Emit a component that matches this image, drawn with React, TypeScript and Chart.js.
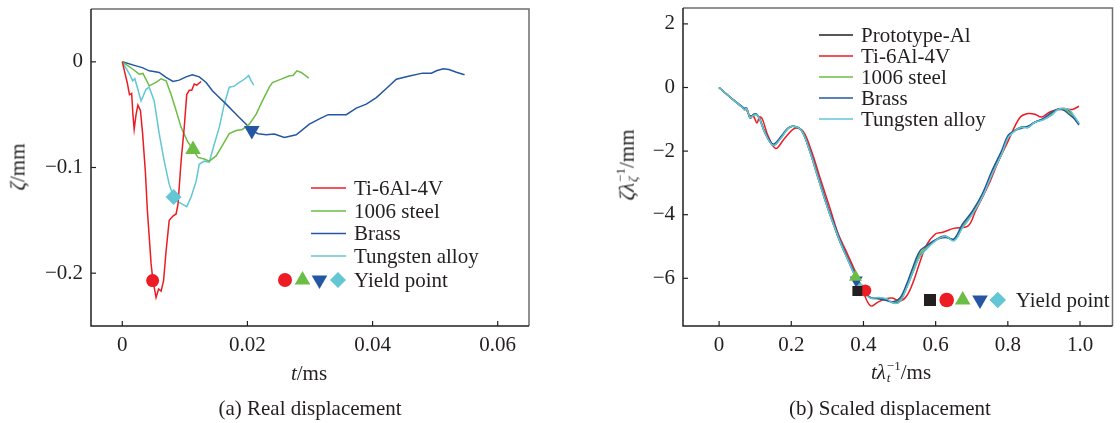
import React, { useEffect, useRef } from 'react';
import { Chart, registerables } from 'chart.js';
Chart.register(...registerables);

const FONT = '"Liberation Serif", "Times New Roman", serif';
const TEXT = '#231f20';

// ---------- Panel (a): real displacement ----------
const A_X_TICKS = [0, 0.02, 0.04, 0.06];
const A_X_LABELS = ['0', '0.02', '0.04', '0.06'];
const A_Y_TICKS = [0, -0.1, -0.2];
const A_Y_LABELS = ['0', '\u22120.1', '\u22120.2'];

const A_TI_X = [0, 0.0008, 0.00115, 0.0015, 0.0017, 0.0019, 0.0022, 0.0025, 0.0029, 0.00325, 0.0037, 0.0040, 0.0043, 0.0046, 0.0049, 0.0054, 0.0058, 0.0062, 0.0066, 0.0070, 0.0075, 0.0081, 0.0086, 0.0089, 0.0094, 0.0099, 0.0103, 0.0107, 0.0111, 0.0115, 0.0119, 0.0126];
const A_TI_Y = [0, -0.02, -0.031, -0.03, -0.05, -0.064, -0.05, -0.041, -0.046, -0.068, -0.105, -0.14, -0.165, -0.191, -0.207, -0.223, -0.215, -0.217, -0.207, -0.179, -0.15, -0.146, -0.144, -0.135, -0.094, -0.062, -0.031, -0.027, -0.027, -0.021, -0.022, -0.0186];

const A_STEEL_X = [0, 0.0017, 0.0027, 0.0033, 0.0043, 0.0054, 0.0062, 0.0070, 0.0078, 0.0086, 0.0094, 0.0104, 0.0113, 0.0121, 0.0131, 0.0139, 0.0150, 0.0160, 0.0171, 0.0182, 0.0192, 0.0203, 0.0214, 0.0224, 0.0235, 0.0240, 0.0254, 0.0267, 0.0273, 0.0279, 0.0286, 0.0298];
const A_STEEL_Y = [0, -0.007, -0.0117, -0.011, -0.0227, -0.0195, -0.016, -0.018, -0.031, -0.046, -0.062, -0.075, -0.083, -0.0905, -0.092, -0.094, -0.089, -0.079, -0.068, -0.065, -0.064, -0.059, -0.0495, -0.037, -0.024, -0.0196, -0.0164, -0.0132, -0.013, -0.0085, -0.0101, -0.0155];

const A_BRASS_X = [0, 0.0022, 0.0032, 0.0043, 0.0048, 0.0059, 0.0070, 0.0081, 0.0091, 0.0102, 0.0112, 0.0123, 0.0134, 0.0144, 0.0155, 0.0166, 0.0176, 0.0187, 0.0198, 0.0207, 0.0217, 0.0230, 0.0243, 0.0259, 0.0278, 0.0299, 0.0315, 0.0329, 0.0358, 0.0374, 0.0390, 0.0406, 0.0422, 0.0438, 0.0459, 0.0480, 0.0494, 0.0502, 0.0513, 0.0522, 0.0534, 0.0547];
const A_BRASS_Y = [0, -0.0038, -0.0055, -0.0085, -0.009, -0.010, -0.0148, -0.0186, -0.0173, -0.0142, -0.0123, -0.0142, -0.0196, -0.0274, -0.0338, -0.040, -0.046, -0.0527, -0.059, -0.065, -0.068, -0.069, -0.0684, -0.0716, -0.069, -0.059, -0.054, -0.050, -0.050, -0.0438, -0.040, -0.0338, -0.0252, -0.0164, -0.0135, -0.0107, -0.0107, -0.0085, -0.0066, -0.0072, -0.0098, -0.0123];

const A_TUNG_X = [0, 0.0012, 0.00165, 0.0020, 0.0024, 0.0030, 0.0038, 0.0043, 0.0051, 0.0059, 0.0067, 0.0075, 0.0082, 0.0091, 0.0103, 0.0110, 0.0118, 0.0123, 0.0131, 0.0139, 0.0147, 0.0155, 0.0163, 0.0171, 0.0179, 0.0187, 0.0195, 0.0202, 0.0206, 0.0210];
const A_TUNG_Y = [0, -0.012, -0.018, -0.016, -0.024, -0.037, -0.026, -0.024, -0.037, -0.068, -0.094, -0.116, -0.128, -0.133, -0.137, -0.128, -0.113, -0.097, -0.094, -0.095, -0.078, -0.062, -0.040, -0.024, -0.023, -0.0195, -0.0165, -0.013, -0.018, -0.022];

// yield points (a): Ti, steel, brass, tungsten
const A_YIELD_X = [0.00485, 0.0113, 0.0207, 0.0082];
const A_YIELD_Y = [-0.207, -0.083, -0.065, -0.128];

// ---------- Panel (b): scaled displacement ----------
const B_X_TICKS = [0, 0.2, 0.4, 0.6, 0.8, 1.0];
const B_X_LABELS = ['0', '0.2', '0.4', '0.6', '0.8', '1.0'];
const B_Y_TICKS = [2, 0, -2, -4, -6];
const B_Y_LABELS = ['2', '0', '\u22122', '\u22124', '\u22126'];

const B_X = [0, 0.03, 0.064, 0.07, 0.076, 0.086, 0.096, 0.104, 0.112, 0.128, 0.15, 0.173, 0.19, 0.205, 0.228, 0.251, 0.273, 0.301, 0.328, 0.346, 0.364, 0.383, 0.401, 0.419, 0.442, 0.464, 0.482, 0.501, 0.519, 0.537, 0.556, 0.578, 0.595, 0.61, 0.628, 0.651, 0.674, 0.701, 0.729, 0.756, 0.783, 0.801, 0.82, 0.838, 0.856, 0.874, 0.897, 0.92, 0.938, 0.956, 0.97, 0.984, 0.997];
const B_PROTO_Y = [0, -0.3, -0.62, -0.70, -0.66, -0.95, -0.86, -0.85, -0.98, -1.45, -1.82, -1.56, -1.30, -1.22, -1.35, -2.0, -2.8, -3.8, -4.65, -5.15, -5.6, -6.08, -6.42, -6.60, -6.62, -6.66, -6.77, -6.72, -6.30, -5.80, -5.30, -5.03, -4.85, -4.72, -4.68, -4.80, -4.40, -3.98, -3.45, -2.72, -2.08, -1.56, -1.35, -1.24, -1.25, -1.09, -1.01, -0.87, -0.69, -0.66, -0.72, -0.93, -1.14];
const B_STEEL_Y = [0, -0.3, -0.62, -0.69, -0.66, -0.94, -0.86, -0.86, -0.99, -1.44, -1.80, -1.55, -1.30, -1.22, -1.34, -1.98, -2.78, -3.78, -4.62, -5.12, -5.58, -6.05, -6.40, -6.62, -6.64, -6.68, -6.75, -6.66, -6.25, -5.74, -5.24, -5.0, -4.84, -4.74, -4.70, -4.78, -4.36, -3.94, -3.40, -2.68, -2.04, -1.54, -1.36, -1.26, -1.24, -1.10, -1.00, -0.84, -0.68, -0.68, -0.78, -0.95, -1.16];
const B_BRASS_Y = [0, -0.3, -0.60, -0.66, -0.64, -0.96, -0.84, -0.84, -0.97, -1.42, -1.78, -1.52, -1.28, -1.22, -1.34, -1.96, -2.74, -3.74, -4.58, -5.10, -5.55, -6.02, -6.38, -6.60, -6.64, -6.70, -6.74, -6.62, -6.20, -5.65, -5.15, -4.95, -4.82, -4.75, -4.72, -4.76, -4.30, -3.90, -3.35, -2.62, -1.98, -1.50, -1.35, -1.28, -1.22, -1.10, -0.98, -0.80, -0.68, -0.72, -0.85, -0.98, -1.18];
const B_TUNG_Y = [0, -0.3, -0.62, -0.70, -0.66, -0.95, -0.87, -0.85, -0.98, -1.45, -1.82, -1.57, -1.30, -1.22, -1.35, -2.0, -2.8, -3.8, -4.64, -5.15, -5.6, -6.08, -6.44, -6.62, -6.60, -6.64, -6.78, -6.74, -6.32, -5.82, -5.32, -5.05, -4.86, -4.74, -4.68, -4.82, -4.42, -4.0, -3.46, -2.74, -2.10, -1.58, -1.36, -1.25, -1.26, -1.10, -1.02, -0.88, -0.70, -0.66, -0.70, -0.90, -1.12];

const B_TI_X = [0, 0.03, 0.064, 0.075, 0.085, 0.095, 0.105, 0.112, 0.12, 0.135, 0.157, 0.18, 0.21, 0.233, 0.256, 0.28, 0.31, 0.33, 0.35, 0.37, 0.385, 0.40, 0.42, 0.44, 0.46, 0.48, 0.50, 0.52, 0.54, 0.556, 0.575, 0.60, 0.62, 0.65, 0.69, 0.71, 0.747, 0.774, 0.801, 0.833, 0.856, 0.875, 0.893, 0.915, 0.938, 0.96, 0.979, 0.997];
const B_TI_Y = [0, -0.3, -0.62, -0.70, -0.88, -0.90, -1.12, -0.92, -1.0, -1.5, -1.92, -1.62, -1.28, -1.38, -2.0, -2.85, -3.9, -4.6, -5.1, -5.6, -6.0, -6.45, -6.87, -6.75, -6.65, -6.62, -6.72, -6.55, -6.05, -5.5, -4.95, -4.6, -4.55, -4.43, -4.35, -3.9, -3.05, -2.32, -1.68, -0.95, -0.82, -0.84, -0.93, -0.78, -0.70, -0.68, -0.69, -0.59];

// yield points (b): proto, Ti, steel, brass, tungsten
const B_YIELD_X = [0.383, 0.405, 0.378, 0.38, 0.392];
const B_YIELD_Y = [-6.40, -6.38, -5.96, -6.06, -6.35];

const C_RED = '#ed1c24';
const C_GREEN = '#6cbd45';
const C_BLUE = '#2456a4';
const C_CYAN = '#62c6d4';
const C_BLACK = '#231f20';

const toPts = (xs: number[], ys: number[]) => xs.map((x, i) => ({ x, y: ys[i] }));

function drawShape(ctx: CanvasRenderingContext2D, shape: string, x: number, y: number, r: number, color: string) {
  ctx.save();
  ctx.fillStyle = color;
  ctx.beginPath();
  if (shape === 'circle') {
    ctx.arc(x, y, r, 0, Math.PI * 2);
  } else if (shape === 'triangle') {
    ctx.moveTo(x, y - r);
    ctx.lineTo(x + r * 0.866, y + r * 0.5);
    ctx.lineTo(x - r * 0.866, y + r * 0.5);
    ctx.closePath();
  } else if (shape === 'down') {
    ctx.moveTo(x, y + r);
    ctx.lineTo(x + r * 0.866, y - r * 0.5);
    ctx.lineTo(x - r * 0.866, y - r * 0.5);
    ctx.closePath();
  } else if (shape === 'diamond') {
    ctx.moveTo(x, y - r);
    ctx.lineTo(x + r, y);
    ctx.lineTo(x, y + r);
    ctx.lineTo(x - r, y);
    ctx.closePath();
  } else if (shape === 'square') {
    ctx.rect(x - r, y - r, 2 * r, 2 * r);
  }
  ctx.fill();
  ctx.restore();
}

const framePlugin = {
  id: 'frameTicks',
  afterDraw(chart: any) {
    const { ctx, chartArea } = chart;
    const { left, top, right, bottom } = chartArea;
    ctx.save();
    ctx.lineWidth = 1.5;
    ctx.strokeStyle = '#6d6e70';
    ctx.beginPath();
    ctx.moveTo(left, top);
    ctx.lineTo(right, top);
    ctx.lineTo(right, bottom);
    ctx.stroke();
    ctx.strokeStyle = TEXT;
    ctx.beginPath();
    ctx.moveTo(left, top);
    ctx.lineTo(left, bottom);
    ctx.lineTo(right, bottom);
    ctx.stroke();
    ctx.lineWidth = 1.2;
    const xs = chart.scales.x;
    const ys = chart.scales.y;
    xs.ticks.forEach((t: any) => {
      const px = xs.getPixelForValue(t.value);
      ctx.beginPath();
      ctx.moveTo(px, bottom);
      ctx.lineTo(px, bottom - 5);
      ctx.stroke();
    });
    ys.ticks.forEach((t: any) => {
      const py = ys.getPixelForValue(t.value);
      ctx.beginPath();
      ctx.moveTo(left, py);
      ctx.lineTo(left + 5, py);
      ctx.stroke();
    });
    ctx.restore();
  },
};

type LegendLine = { label: string; color: string; y: number };
type LegendCfg = {
  lineX1: number; lineX2: number; textX: number;
  lines: LegendLine[];
  markers: { shape: string; color: string; x: number; r: number }[];
  markerY: number;
  yieldTextX: number;
};

const makeLegendPlugin = (cfg: LegendCfg) => ({
  id: 'customLegend',
  afterDraw(chart: any) {
    const ctx = chart.ctx as CanvasRenderingContext2D;
    ctx.save();
    ctx.font = `21px ${FONT}`;
    ctx.textBaseline = 'middle';
    ctx.fillStyle = TEXT;
    cfg.lines.forEach((l) => {
      ctx.strokeStyle = l.color;
      ctx.lineWidth = 1.6;
      ctx.beginPath();
      ctx.moveTo(cfg.lineX1, l.y);
      ctx.lineTo(cfg.lineX2, l.y);
      ctx.stroke();
      ctx.fillText(l.label, cfg.textX, l.y + 1);
    });
    cfg.markers.forEach((m) => drawShape(ctx, m.shape, m.x, cfg.markerY, m.r, m.color));
    ctx.fillText('Yield point', cfg.yieldTextX, cfg.markerY + 1);
    ctx.restore();
  },
});

const tickFont = { family: FONT, size: 21 };

function axis(min: number, max: number, ticks: number[], labels: string[], isX: boolean, size: number) {
  return {
    type: 'linear',
    min,
    max,
    afterBuildTicks: (s: any) => {
      s.ticks = ticks.map((v) => ({ value: v }));
    },
    afterFit: (s: any) => {
      if (isX) s.height = size;
      else s.width = size;
      s.paddingTop = 0;
      s.paddingBottom = 0;
      s.paddingLeft = 0;
      s.paddingRight = 0;
    },
    ticks: {
      font: tickFont,
      color: TEXT,
      padding: isX ? 7 : 8,
      maxRotation: 0,
      autoSkip: false,
      callback: (_v: any, i: number) => labels[i],
    },
    grid: { display: false, drawTicks: false },
    border: { display: false },
  };
}

function lineDs(label: string, data: any[], color: string, order: number, tension = 0) {
  return {
    label,
    data,
    showLine: true,
    borderColor: color,
    backgroundColor: color,
    borderWidth: 1.5,
    pointRadius: 0,
    tension,
    order,
  };
}

function markerDs(label: string, x: number, y: number, style: string, color: string, r: number, rotation = 0) {
  return {
    label,
    data: [{ x, y }],
    showLine: false,
    pointStyle: style,
    rotation,
    pointRadius: r,
    pointBackgroundColor: color,
    pointBorderColor: color,
    pointBorderWidth: 0,
    order: 0,
  };
}

function ChartA() {
  const ref = useRef<HTMLCanvasElement>(null);
  useEffect(() => {
    if (!ref.current) return;
    const legend = makeLegendPlugin({
      lineX1: 311, lineX2: 346, textX: 354,
      lines: [
        { label: 'Ti-6Al-4V', color: C_RED, y: 188 },
        { label: '1006 steel', color: C_GREEN, y: 211 },
        { label: 'Brass', color: C_BLUE, y: 233.5 },
        { label: 'Tungsten alloy', color: C_CYAN, y: 256 },
      ],
      markers: [
        { shape: 'circle', color: C_RED, x: 285, r: 7 },
        { shape: 'triangle', color: C_GREEN, x: 302.5, r: 9 },
        { shape: 'down', color: C_BLUE, x: 319.5, r: 9 },
        { shape: 'diamond', color: C_CYAN, x: 338, r: 8 },
      ],
      markerY: 280,
      yieldTextX: 354,
    });
    const chart = new Chart(ref.current, {
      type: 'scatter',
      data: {
        datasets: [
          markerDs('Ti yield', A_YIELD_X[0], A_YIELD_Y[0], 'circle', C_RED, 6.5),
          markerDs('Steel yield', A_YIELD_X[1], A_YIELD_Y[1], 'triangle', C_GREEN, 9),
          markerDs('Brass yield', A_YIELD_X[2], A_YIELD_Y[2], 'triangle', C_BLUE, 9, 180),
          markerDs('Tungsten yield', A_YIELD_X[3], A_YIELD_Y[3], 'rectRot', C_CYAN, 8),
          lineDs('Tungsten alloy', toPts(A_TUNG_X, A_TUNG_Y), C_CYAN, 4),
          lineDs('Brass', toPts(A_BRASS_X, A_BRASS_Y), C_BLUE, 3),
          lineDs('1006 steel', toPts(A_STEEL_X, A_STEEL_Y), C_GREEN, 2),
          lineDs('Ti-6Al-4V', toPts(A_TI_X, A_TI_Y), C_RED, 1),
        ],
      } as any,
      options: {
        animation: false,
        responsive: false,
        maintainAspectRatio: false,
        layout: { padding: { left: 0, top: 8, right: 31, bottom: 0 } },
        plugins: { legend: { display: false }, tooltip: { enabled: false } },
        scales: {
          x: axis(-0.005, 0.065, A_X_TICKS, A_X_LABELS, true, 97),
          y: axis(-0.25, 0.05, A_Y_TICKS, A_Y_LABELS, false, 91),
        } as any,
      },
      plugins: [framePlugin, legend],
    });
    return () => chart.destroy();
  }, []);
  return <canvas ref={ref} width={560} height={423} style={{ position: 'absolute', left: 0, top: 0, width: 560, height: 423 }} />;
}

function ChartB() {
  const ref = useRef<HTMLCanvasElement>(null);
  useEffect(() => {
    if (!ref.current) return;
    const legend = makeLegendPlugin({
      lineX1: 259, lineX2: 293, textX: 301,
      lines: [
        { label: 'Prototype-Al', color: C_BLACK, y: 35 },
        { label: 'Ti-6Al-4V', color: C_RED, y: 56 },
        { label: '1006 steel', color: C_GREEN, y: 77 },
        { label: 'Brass', color: C_BLUE, y: 98 },
        { label: 'Tungsten alloy', color: C_CYAN, y: 119 },
      ],
      markers: [
        { shape: 'square', color: C_BLACK, x: 370, r: 6 },
        { shape: 'circle', color: C_RED, x: 386.7, r: 7.3 },
        { shape: 'triangle', color: C_GREEN, x: 402.7, r: 9 },
        { shape: 'down', color: C_BLUE, x: 420, r: 9 },
        { shape: 'diamond', color: C_CYAN, x: 437.7, r: 8.3 },
      ],
      markerY: 300,
      yieldTextX: 455.7,
    });
    const chart = new Chart(ref.current, {
      type: 'scatter',
      data: {
        datasets: [
          markerDs('Proto yield', B_YIELD_X[0], B_YIELD_Y[0], 'rect', C_BLACK, 7),
          markerDs('Ti yield', B_YIELD_X[1], B_YIELD_Y[1], 'circle', C_RED, 6),
          markerDs('Steel yield', B_YIELD_X[2], B_YIELD_Y[2], 'triangle', C_GREEN, 7.5),
          markerDs('Brass yield', B_YIELD_X[3], B_YIELD_Y[3], 'triangle', C_BLUE, 7.5, 180),
          markerDs('Tungsten yield', B_YIELD_X[4], B_YIELD_Y[4], 'rectRot', C_CYAN, 7),
          lineDs('Tungsten alloy', toPts(B_X, B_TUNG_Y), C_CYAN, 1, 0.35),
          lineDs('Brass', toPts(B_X, B_BRASS_Y), C_BLUE, 2, 0.35),
          lineDs('1006 steel', toPts(B_X, B_STEEL_Y), C_GREEN, 3, 0.35),
          lineDs('Ti-6Al-4V', toPts(B_TI_X, B_TI_Y), C_RED, 4, 0.35),
          lineDs('Prototype-Al', toPts(B_X, B_PROTO_Y), C_BLACK, 5, 0.35),
        ],
      } as any,
      options: {
        animation: false,
        responsive: false,
        maintainAspectRatio: false,
        layout: { padding: { left: 0, top: 8, right: 1, bottom: 0 } },
        plugins: { legend: { display: false }, tooltip: { enabled: false } },
        scales: {
          x: axis(-0.1, 1.09, B_X_TICKS, B_X_LABELS, true, 97),
          y: axis(-7.5, 2.5, B_Y_TICKS, B_Y_LABELS, false, 123),
        } as any,
      },
      plugins: [framePlugin, legend],
    });
    return () => chart.destroy();
  }, []);
  return <canvas ref={ref} width={560} height={423} style={{ position: 'absolute', left: 560, top: 0, width: 560, height: 423 }} />;
}

const Stack = ({ top, bottom }: { top: React.ReactNode; bottom: React.ReactNode }) => (
  <span style={{ display: 'inline-flex', flexDirection: 'column', fontSize: '0.62em', lineHeight: 0.95, verticalAlign: 'middle', marginLeft: 1, marginTop: -4 }}>
    <span>{top}</span>
    <span>{bottom}</span>
  </span>
);

const label = (left: number, top: number, rotate: boolean): React.CSSProperties => ({
  position: 'absolute',
  left,
  top,
  transform: `translate(-50%, -50%)${rotate ? ' rotate(-90deg)' : ''}`,
  whiteSpace: 'nowrap',
  fontSize: 21,
  fontFamily: FONT,
  color: TEXT,
  lineHeight: 1,
});

export default function App() {
  return (
    <div style={{ position: 'fixed', left: 0, top: 0, width: 1120, height: 423, background: '#fff', overflow: 'hidden' }}>
      <ChartA />
      <ChartB />
      <div style={label(18, 167, true)}><i>ζ</i>/mm</div>
      <div style={label(309, 373, false)}><i>t</i>/ms</div>
      <div style={label(310, 408, false)}>(a) Real displacement</div>
      <div style={label(628, 165, true)}>
        <i>ζλ</i><Stack top={'\u22121'} bottom={<i>ζ</i>} />/mm
      </div>
      <div style={label(901, 373, false)}>
        <i>tλ</i><Stack top={'\u22121'} bottom={<i>t</i>} />/ms
      </div>
      <div style={label(890, 408, false)}>(b) Scaled displacement</div>
    </div>
  );
}
